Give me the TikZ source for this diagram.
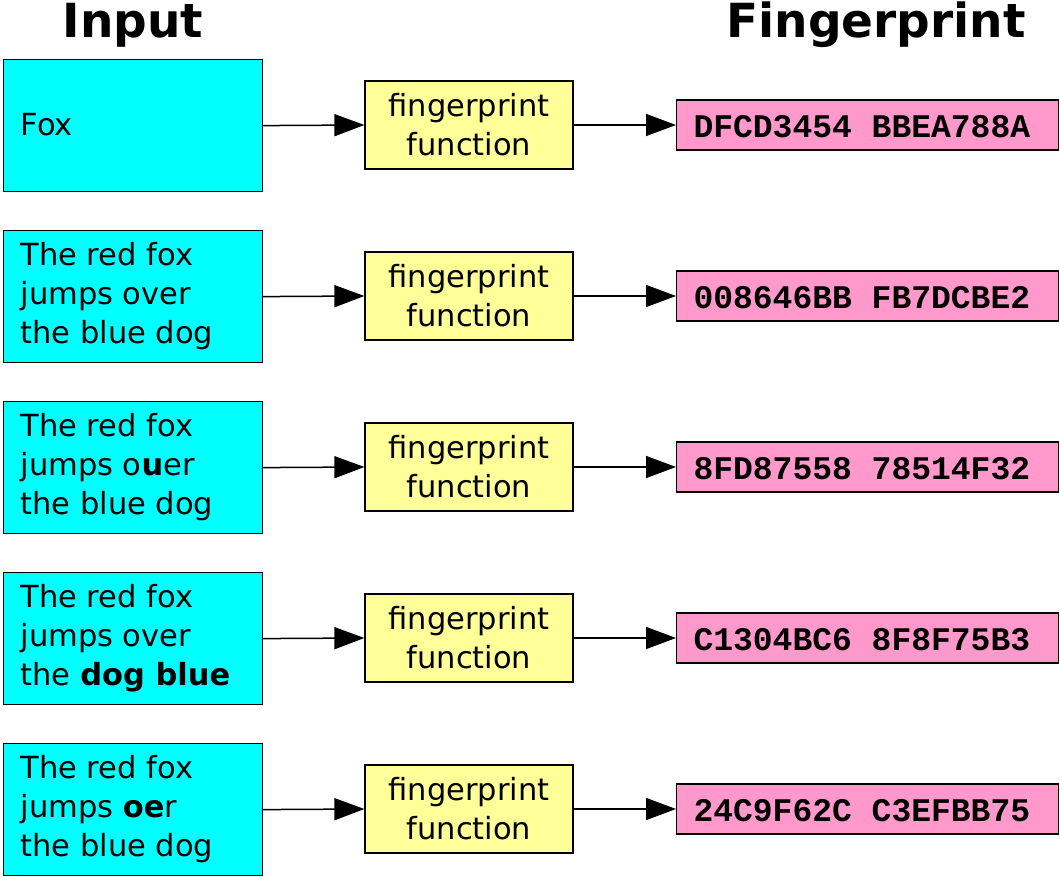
\documentclass[tikz,border=0pt]{standalone}
\usepackage{fontspec}
\setmainfont{DejaVu Sans}
\setmonofont{Liberation Mono}
\usetikzlibrary{arrows.meta}
\definecolor{incol}{RGB}{0,255,255}
\definecolor{funcol}{RGB}{255,255,153}
\definecolor{fpcol}{RGB}{255,153,204}
\begin{document}
\begin{tikzpicture}[x=1pt,y=-1pt,
  inp/.style={draw=black,line width=1.2pt,fill=incol,minimum width=259pt,minimum height=132pt,anchor=north west,inner sep=0pt},
  txt/.style={anchor=west,align=left,font=\fontsize{30.5}{39}\selectfont},
  fun/.style={draw=black,line width=1.2pt,fill=funcol,minimum width=208pt,minimum height=88pt,align=center,font=\fontsize{30.5}{39}\selectfont,inner sep=0pt},
  fpbox/.style={draw=black,line width=1.2pt,fill=fpcol,minimum width=382pt,minimum height=50pt,anchor=west,inner sep=0pt},
  otxt/.style={anchor=west,font=\ttfamily\bfseries\fontsize{33}{34}\selectfont},
  arr/.style={line width=1.5pt,-{Triangle[length=30pt,width=22pt]}},
  ttl/.style={font=\bfseries\fontsize{47}{50}\selectfont}]
\useasboundingbox (0,0) rectangle (1060,877);
\node[ttl] (t1) at (133,25) {Input};
\node[ttl] (t2) at (876,25) {Fingerprint};
\foreach \i/\t/\o in {0/{Fox}/{DFCD3454 BBEA788A},
  1/{The red fox\\jumps over\\the blue dog}/{008646BB FB7DCBE2},
  2/{The red fox\\jumps o\textbf{u}er\\the blue dog}/{8FD87558 78514F32},
  3/{The red fox\\jumps over\\the \textbf{dog blue}}/{C1304BC6 8F8F75B3},
  4/{The red fox\\jumps \textbf{oe}r\\the blue dog}/{24C9F62C C3EFBB75}}{
  \pgfmathsetmacro\yc{125+171*\i}
  \node[inp] (a\i) at (3,\yc-66) {};
  \node[txt] (at\i) at (17,\yc) {\t};
  \node[fun] (f\i) at (469,\yc) {fingerprint\\function};
  \node[fpbox] (o\i) at (676,\yc) {};
  \node[otxt] (ot\i) at (690,\yc+2) {\o};
  \draw[arr] (a\i.east) -- (f\i.west);
  \draw[arr] (f\i.east) -- (o\i.west);
}
\end{tikzpicture}
\end{document}
